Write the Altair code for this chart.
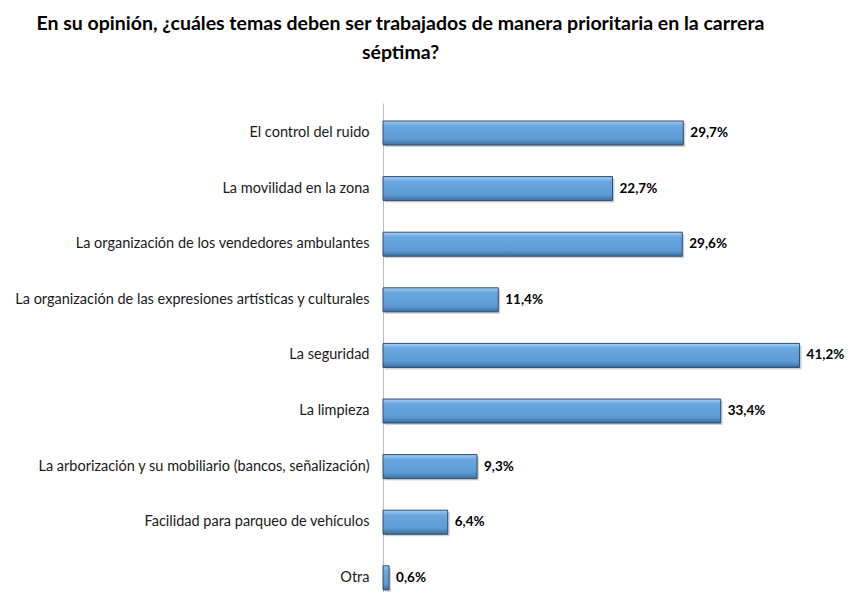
import altair as alt
import pandas as pd

categories = [
    "El control del ruido",
    "La movilidad en la zona",
    "La organización de los vendedores ambulantes",
    "La organización de las expresiones artísticas y culturales",
    "La seguridad",
    "La limpieza",
    "La arborización y su mobiliario (bancos, señalización)",
    "Facilidad para parqueo de vehículos",
    "Otra",
]
values = [29.7, 22.7, 29.6, 11.4, 41.2, 33.4, 9.3, 6.4, 0.6]
labels = ["29,7%", "22,7%", "29,6%", "11,4%", "41,2%", "33,4%", "9,3%", "6,4%", "0,6%"]

df = pd.DataFrame({"tema": categories, "valor": values, "etiqueta": labels})

FONT = "Lato"

y_enc = alt.Y(
    "tema:N",
    sort=categories,
    title=None,
    scale=alt.Scale(paddingInner=0.568, paddingOuter=0.1815, align=0.892),
    axis=alt.Axis(
        domainColor="#bfbfbf",
        domainWidth=1,
        ticks=False,
        labelPadding=14,
        labelFont=FONT,
        labelFontSize=14.5,
        labelColor="#1a1a1a",
        labelLimit=400,
    ),
)
x_enc = alt.X(
    "valor:Q",
    scale=alt.Scale(domain=[0, 45], nice=False),
    axis=None,
)

base = alt.Chart(df).encode(y=y_enc, x=x_enc)

shadow = base.mark_bar(color="#7f7f7f", opacity=0.35, xOffset=2, yOffset=2)

grad = alt.Gradient(
    gradient="linear",
    x1=0, y1=0, x2=0, y2=1,
    stops=[
        alt.GradientStop(color="#a9cdf0", offset=0),
        alt.GradientStop(color="#6aa7e0", offset=0.2),
        alt.GradientStop(color="#5d9bd6", offset=0.75),
        alt.GradientStop(color="#3e6f9e", offset=1),
    ],
)
bars = base.mark_bar(color=grad, stroke="#2c4d6e", strokeWidth=1)

text = base.mark_text(
    align="left", baseline="middle", dx=7, font=FONT, fontSize=13.5,
    fontWeight="bold", color="#000000"
).encode(text="etiqueta:N")

chart = (
    alt.layer(shadow, bars, text)
    .properties(
        width=455,
        height=489,
        autosize=alt.AutoSizeParams(type="none"),
        padding={"left": 375, "top": 95, "right": 10, "bottom": 0},
        title=alt.TitleParams(
            text=[
                "En su opinión, ¿cuáles temas deben ser trabajados de manera prioritaria en la carrera",
                "séptima?",
            ],
            anchor="middle",
            frame="group",
            dx=-210,
            offset=40,
            font=FONT,
            fontSize=19.5,
            fontWeight="bold",
            color="#000000",
            lineHeight=29,
        ),
    )
    .configure_view(stroke=None)
)

chart.save("out.html", embed_options={"renderer": "svg", "actions": False})
